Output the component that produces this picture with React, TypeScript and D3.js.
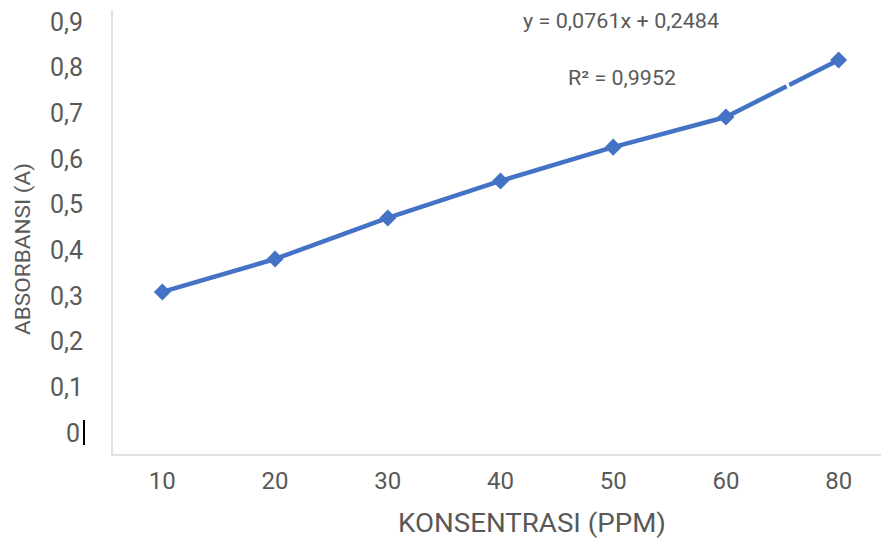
import React from "react";
import * as d3 from "d3";

const categories = ["10", "20", "30", "40", "50", "60", "80"];
const absorbance = [0.309, 0.381, 0.471, 0.552, 0.626, 0.692, 0.817];
const yTicks = [0, 0.1, 0.2, 0.3, 0.4, 0.5, 0.6, 0.7, 0.8, 0.9];
const equation = "y = 0,0761x + 0,2484";
const rSquared = "R² = 0,9952";

const W = 881;
const H = 540;
const blue = "#4472C4";
const grey = "#595959";
const font = "Roboto, 'Liberation Sans', sans-serif";

export default function App() {
  const x = d3.scaleBand().domain(categories).range([106, 895]);
  const y = d3.scaleLinear().domain([0, 0.9]).range([433, 22]);
  const cx = (c: string) => (x(c) as number) + x.bandwidth() / 2;

  const pts: [number, number][] = categories.map((c, i) => [cx(c), y(absorbance[i])]);
  const line = d3.line()(pts) as string;
  const marker = d3.symbol(d3.symbolSquare, 145)() as string;
  const fmt = (v: number) => (v === 0 ? "0" : v.toFixed(1).replace(".", ","));

  // small break in the line between the last two points, as in the picture
  const gx = pts[5][0] + (pts[6][0] - pts[5][0]) * 0.55;
  const gy = pts[5][1] + (pts[6][1] - pts[5][1]) * 0.55;

  return (
    <svg width={W} height={H} style={{ position: "absolute", left: 0, top: 0, background: "#fff" }}>
      <line x1={112} x2={112} y1={10} y2={455} stroke="#d9d9d9" strokeWidth={1.5} />
      <line x1={111} x2={W} y1={455} y2={455} stroke="#d9d9d9" strokeWidth={1.5} />

      {yTicks.map((t) => (
        <text key={t} x={t === 0 ? 80 : 83} y={y(t)} dy="0.35em" textAnchor="end"
          fontFamily={font} fontSize={25} fill={grey}>
          {fmt(t)}
        </text>
      ))}
      <line x1={84} x2={84} y1={y(0) - 13} y2={y(0) + 12} stroke="#000" strokeWidth={2} />

      {categories.map((c) => (
        <text key={c} x={cx(c)} y={481} dy="0.35em" textAnchor="middle"
          fontFamily={font} fontSize={24} fill={grey}>
          {c}
        </text>
      ))}

      <text x={532} y={523} dy="0.35em" textAnchor="middle" fontFamily={font} fontSize={25} fill={grey}
        textLength={268} lengthAdjust="spacingAndGlyphs">
        KONSENTRASI (PPM)
      </text>
      <text transform={`translate(23,249) rotate(-90)`} dy="0.35em" textAnchor="middle"
        fontFamily={font} fontSize={21} fill={grey} textLength={172} lengthAdjust="spacingAndGlyphs">
        ABSORBANSI (A)
      </text>

      <path d={line} fill="none" stroke={blue} strokeWidth={4.5} strokeLinejoin="round" />
      <line x1={gx - 2} y1={gy - 4} x2={gx + 2} y2={gy + 4} stroke="#fff" strokeWidth={3} />
      {pts.map((p, i) => (
        <path key={i} d={marker} transform={`translate(${p[0]},${p[1]}) rotate(45)`} fill={blue} />
      ))}

      <text x={621} y={21} dy="0.35em" textAnchor="middle" fontFamily={font} fontSize={20} fill={grey}
        textLength={196} lengthAdjust="spacingAndGlyphs">
        {equation}
      </text>
      <text x={622} y={78} dy="0.35em" textAnchor="middle" fontFamily={font} fontSize={20} fill={grey}
        textLength={108} lengthAdjust="spacingAndGlyphs">
        {rSquared}
      </text>
    </svg>
  );
}
